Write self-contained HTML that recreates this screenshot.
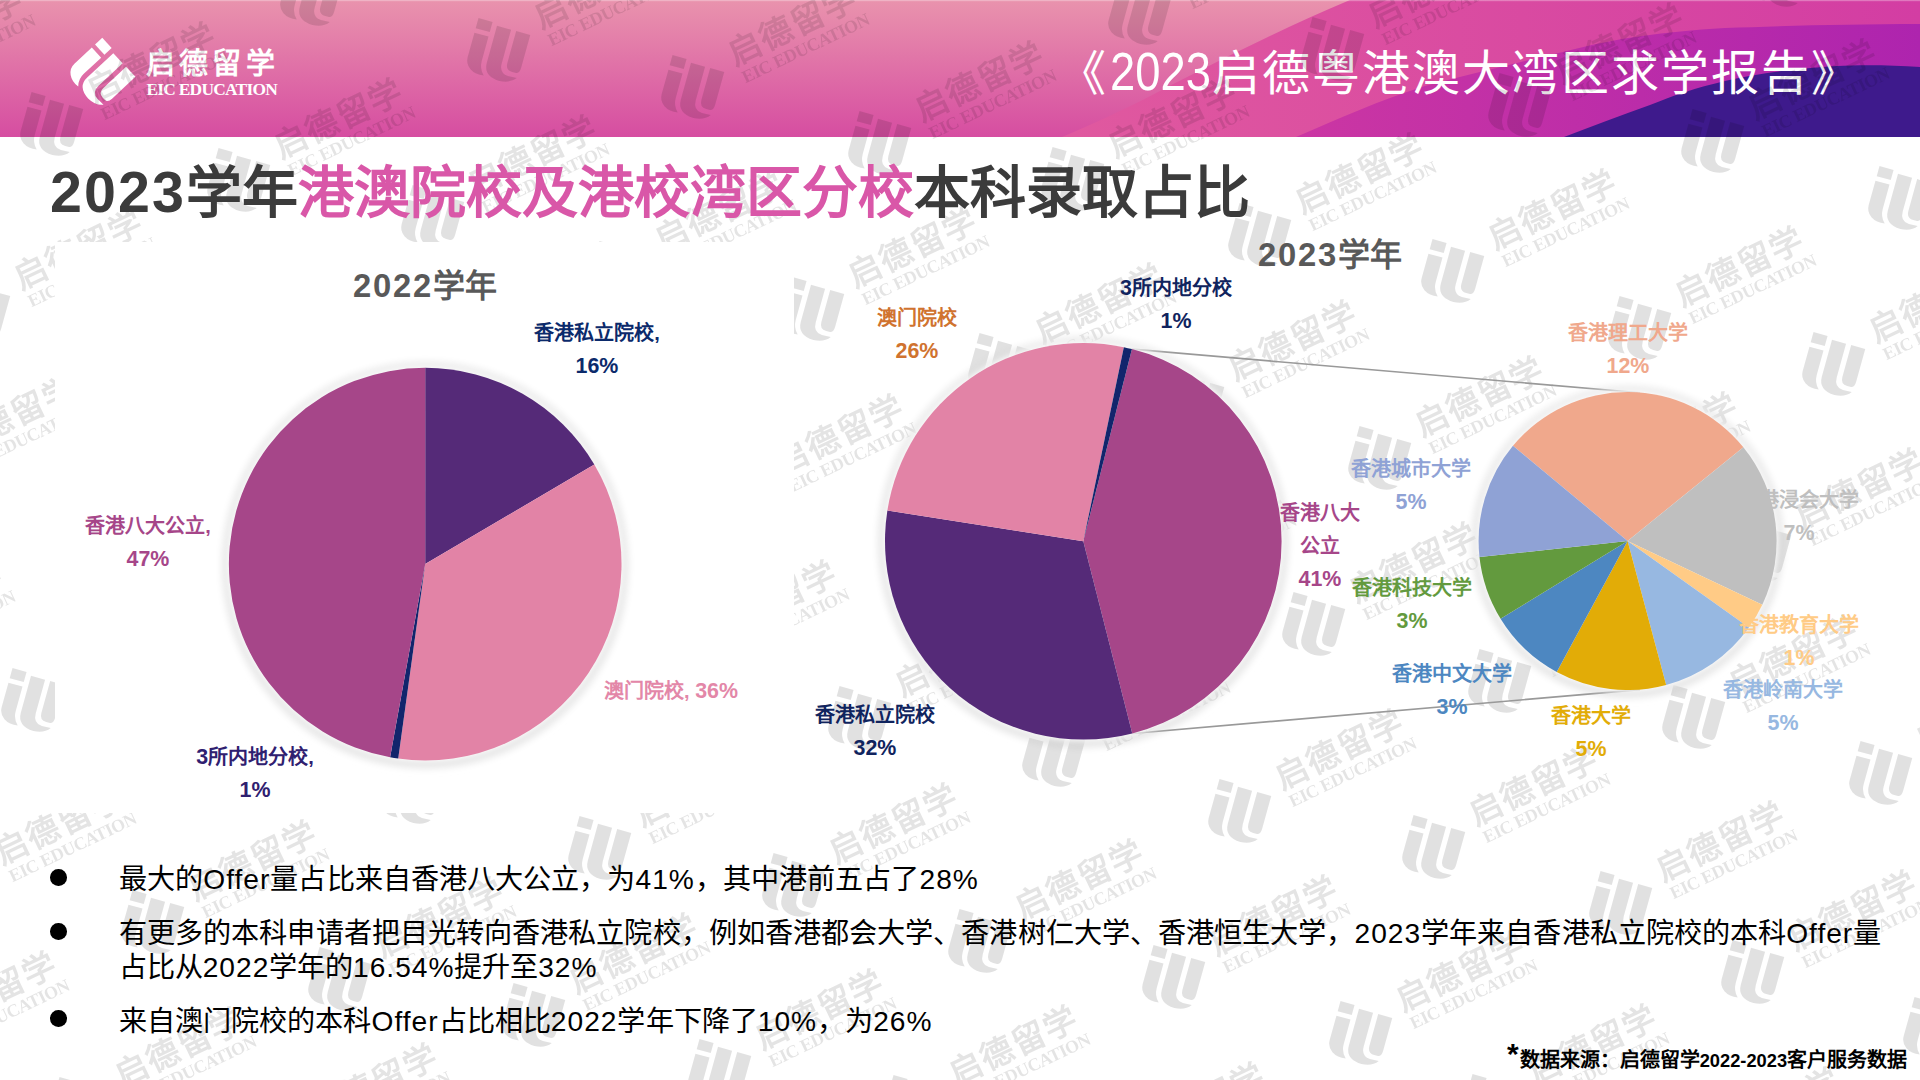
<!DOCTYPE html>
<html lang="zh-CN">
<head>
<meta charset="utf-8">
<title>2023学年港澳院校及港校湾区分校本科录取占比</title>
<style>
html,body{margin:0;padding:0;background:#fff;}
body{width:1920px;height:1080px;position:relative;overflow:hidden;font-family:"Liberation Sans",sans-serif;}
.abs{position:absolute;}
svg{position:absolute;left:0;top:0;}
.lb{position:absolute;text-align:center;font-weight:bold;white-space:nowrap;}
.lb i{font-style:normal;font-size:21.4px;}
#hdrtitle{position:absolute;left:1058px;top:38px;font-size:48px;line-height:66px;color:#fff;font-weight:500;letter-spacing:1.9px;white-space:nowrap;}
#hdrtitle i{font-style:normal;display:inline-block;font-size:54px;line-height:66px;letter-spacing:0;transform:scaleX(.84);transform-origin:0 50%;margin-right:-18px;margin-left:2px;vertical-align:baseline;}
#logotxt{position:absolute;left:145.5px;top:43.5px;font-size:29px;line-height:40px;color:#fff;font-weight:bold;letter-spacing:4.4px;white-space:nowrap;}
#logoen{position:absolute;left:146.5px;top:78.6px;font-family:"Liberation Serif",serif;font-size:17.4px;letter-spacing:-.75px;line-height:20px;color:#fff;font-weight:bold;white-space:nowrap;}
#title{position:absolute;left:50px;top:152px;font-size:56px;line-height:80px;font-weight:bold;color:#3B3B3B;white-space:nowrap;}
#title b{color:#D957A8;}
#title i{font-style:normal;font-size:57.4px;letter-spacing:2.1px;}
.ct i{font-style:normal;font-size:32.8px;letter-spacing:1.8px;}
.ct{position:absolute;font-size:32px;line-height:44px;font-weight:bold;color:#595959;white-space:nowrap;text-align:center;width:300px;}
.bl i{font-style:normal;letter-spacing:1px;}
.bl{position:absolute;left:119px;font-size:28.15px;line-height:34px;color:#000;white-space:nowrap;}
.dot{position:absolute;left:50px;width:16.6px;height:16.6px;border-radius:50%;background:#000;}
#foot{position:absolute;left:1507px;top:1045px;font-size:20px;line-height:30px;font-weight:bold;color:#000;white-space:nowrap;}
#foot sup{font-size:30px;line-height:0;vertical-align:2.6px;margin-right:1px;}
#foot i{font-style:normal;font-size:18.3px;}
</style>
</head>
<body>
<!-- header band -->
<svg width="1920" height="137" viewBox="0 0 1920 137">
<defs>
<linearGradient id="g0" x1="0" y1="0" x2="0" y2="1"><stop offset="0" stop-color="#E993AD"/><stop offset="1" stop-color="#D64DA1"/></linearGradient>
<linearGradient id="g1" x1="0" y1="0" x2="1" y2="0"><stop offset="0" stop-color="#E0599F"/><stop offset="1" stop-color="#D33DA3"/></linearGradient>
<linearGradient id="g2" x1="0" y1="0" x2="1" y2="0"><stop offset="0" stop-color="#CB36A3"/><stop offset="1" stop-color="#AE24AE"/></linearGradient>
</defs>
<rect width="1920" height="137" fill="url(#g0)"/>
<path d="M1350 0 C1290 25 1220 60 1158 92 C1120 112 1090 125 1062 137 L1920 137 L1920 0 Z" fill="url(#g1)"/>
<path d="M1920 24 C1850 24 1780 26 1725 28 C1660 32 1620 38 1575 49 C1520 62 1470 74 1425 86 C1380 100 1340 118 1296 137 L1920 137 Z" fill="url(#g2)"/>
<path d="M1920 67 C1890 65 1860 65 1837 66 C1790 69 1760 73 1725 81 C1695 88 1675 95 1650 105 C1620 116 1592 126 1564 137 L1920 137 Z" fill="#3E1A8C"/>
<rect width="1920" height="1.2" fill="#fff" fill-opacity=".3"/>
</svg>
<!-- header logo -->
<svg width="300" height="137" viewBox="0 0 300 137">
<g fill="#fff" transform="translate(100.8 74.2) rotate(47) scale(.94) translate(-7.3 -25)">
<rect x="-19.9" y="-2.5" width="14.6" height="10.5"/>
<path d="M-19.9 12.7H-5.3V38Q-5.3 46 .5 51.5Q-8 53 -14 49Q-19.9 45 -19.9 38Z"/>
<path d="M0 0H14.6V35Q14.6 45 24 45.5L33 45Q28 52 17 52.5Q0 52 0 38Z"/>
<path d="M19.9 0H34.5V34Q34.5 40.5 30 40.5H27Q19.9 40.5 19.9 33Z"/>
</g>
</svg>
<div id="logotxt">启德留学</div>
<div id="logoen">EIC EDUCATION</div>
<div id="hdrtitle">《<i>2023</i>启德粤港澳大湾区求学报告》</div>

<!-- watermark -->
<svg width="1920" height="1080" viewBox="0 0 1920 1080" style="opacity:.115">
<defs>
<g id="wm" fill="#000">
<g transform="rotate(41) translate(-6.3 -26.5)">
<rect x="-19.9" y="-2.5" width="14.6" height="10.5"/>
<path d="M-19.9 12.7H-5.3V38Q-5.3 46 .5 51.5Q-8 53 -14 49Q-19.9 45 -19.9 38Z"/>
<path d="M0 0H14.6V35Q14.6 45 24 45.5L33 45Q28 52 17 52.5Q0 52 0 38Z"/>
<path d="M19.9 0H34.5V34Q34.5 40.5 30 40.5H27Q19.9 40.5 19.9 33Z"/>
</g>
<text x="50.5" y="-2.5" style="font-family:'Liberation Sans',sans-serif;font-weight:bold;font-size:33px;letter-spacing:2px" fill-opacity=".93">启德留学</text>
<text x="53" y="18" style="font-family:'Liberation Serif',serif;font-weight:bold;font-size:18px;letter-spacing:-.5px" fill-opacity=".93">EIC EDUCATION</text>
</g>
</defs>
<use href="#wm" transform="translate(-144 91) rotate(-25.5)"/>
<use href="#wm" transform="translate(-211 257) rotate(-25.5)"/>
<use href="#wm" transform="translate(116 -39) rotate(-25.5)"/>
<use href="#wm" transform="translate(49 127) rotate(-25.5)"/>
<use href="#wm" transform="translate(-24 314) rotate(-25.5)"/>
<use href="#wm" transform="translate(-90 480) rotate(-25.5)"/>
<use href="#wm" transform="translate(-164 667) rotate(-25.5)"/>
<use href="#wm" transform="translate(309 -3) rotate(-25.5)"/>
<use href="#wm" transform="translate(236 183) rotate(-25.5)"/>
<use href="#wm" transform="translate(170 350) rotate(-25.5)"/>
<use href="#wm" transform="translate(96 536) rotate(-25.5)"/>
<use href="#wm" transform="translate(30 703) rotate(-25.5)"/>
<use href="#wm" transform="translate(-43 889) rotate(-25.5)"/>
<use href="#wm" transform="translate(-110 1056) rotate(-25.5)"/>
<use href="#wm" transform="translate(496 53) rotate(-25.5)"/>
<use href="#wm" transform="translate(430 220) rotate(-25.5)"/>
<use href="#wm" transform="translate(356 406) rotate(-25.5)"/>
<use href="#wm" transform="translate(290 573) rotate(-25.5)"/>
<use href="#wm" transform="translate(217 759) rotate(-25.5)"/>
<use href="#wm" transform="translate(150 925) rotate(-25.5)"/>
<use href="#wm" transform="translate(77 1112) rotate(-25.5)"/>
<use href="#wm" transform="translate(690 90) rotate(-25.5)"/>
<use href="#wm" transform="translate(617 276) rotate(-25.5)"/>
<use href="#wm" transform="translate(550 442) rotate(-25.5)"/>
<use href="#wm" transform="translate(477 629) rotate(-25.5)"/>
<use href="#wm" transform="translate(410 795) rotate(-25.5)"/>
<use href="#wm" transform="translate(337 982) rotate(-25.5)"/>
<use href="#wm" transform="translate(271 1148) rotate(-25.5)"/>
<use href="#wm" transform="translate(950 -41) rotate(-25.5)"/>
<use href="#wm" transform="translate(877 146) rotate(-25.5)"/>
<use href="#wm" transform="translate(810 312) rotate(-25.5)"/>
<use href="#wm" transform="translate(737 499) rotate(-25.5)"/>
<use href="#wm" transform="translate(670 665) rotate(-25.5)"/>
<use href="#wm" transform="translate(597 851) rotate(-25.5)"/>
<use href="#wm" transform="translate(531 1018) rotate(-25.5)"/>
<use href="#wm" transform="translate(1137 16) rotate(-25.5)"/>
<use href="#wm" transform="translate(1070 182) rotate(-25.5)"/>
<use href="#wm" transform="translate(997 368) rotate(-25.5)"/>
<use href="#wm" transform="translate(930 535) rotate(-25.5)"/>
<use href="#wm" transform="translate(857 721) rotate(-25.5)"/>
<use href="#wm" transform="translate(791 888) rotate(-25.5)"/>
<use href="#wm" transform="translate(717 1074) rotate(-25.5)"/>
<use href="#wm" transform="translate(1330 52) rotate(-25.5)"/>
<use href="#wm" transform="translate(1257 238) rotate(-25.5)"/>
<use href="#wm" transform="translate(1190 405) rotate(-25.5)"/>
<use href="#wm" transform="translate(1117 591) rotate(-25.5)"/>
<use href="#wm" transform="translate(1051 758) rotate(-25.5)"/>
<use href="#wm" transform="translate(977 944) rotate(-25.5)"/>
<use href="#wm" transform="translate(911 1110) rotate(-25.5)"/>
<use href="#wm" transform="translate(1517 108) rotate(-25.5)"/>
<use href="#wm" transform="translate(1450 274) rotate(-25.5)"/>
<use href="#wm" transform="translate(1377 461) rotate(-25.5)"/>
<use href="#wm" transform="translate(1311 627) rotate(-25.5)"/>
<use href="#wm" transform="translate(1237 814) rotate(-25.5)"/>
<use href="#wm" transform="translate(1171 980) rotate(-25.5)"/>
<use href="#wm" transform="translate(1098 1167) rotate(-25.5)"/>
<use href="#wm" transform="translate(1777 -22) rotate(-25.5)"/>
<use href="#wm" transform="translate(1710 144) rotate(-25.5)"/>
<use href="#wm" transform="translate(1637 331) rotate(-25.5)"/>
<use href="#wm" transform="translate(1571 497) rotate(-25.5)"/>
<use href="#wm" transform="translate(1497 684) rotate(-25.5)"/>
<use href="#wm" transform="translate(1431 850) rotate(-25.5)"/>
<use href="#wm" transform="translate(1358 1036) rotate(-25.5)"/>
<use href="#wm" transform="translate(1897 201) rotate(-25.5)"/>
<use href="#wm" transform="translate(1831 367) rotate(-25.5)"/>
<use href="#wm" transform="translate(1757 553) rotate(-25.5)"/>
<use href="#wm" transform="translate(1691 720) rotate(-25.5)"/>
<use href="#wm" transform="translate(1618 906) rotate(-25.5)"/>
<use href="#wm" transform="translate(1951 590) rotate(-25.5)"/>
<use href="#wm" transform="translate(1878 776) rotate(-25.5)"/>
<use href="#wm" transform="translate(1932 1165) rotate(-25.5)"/>
<use href="#wm" transform="translate(1750 975) rotate(-25.5)"/>
<use href="#wm" transform="translate(1932 1032) rotate(-25.5)"/>
<use href="#wm" transform="translate(1490 1109) rotate(-25.5)"/>
<use href="#wm" transform="translate(1673 1172) rotate(-25.5)"/>
</svg>

<!-- chart 2022 white box -->
<div class="abs" style="left:54.7px;top:242.4px;width:739.3px;height:571.1px;background:#fff"></div>

<svg width="1920" height="1080" viewBox="0 0 1920 1080">
<line x1="1131.9" y1="349.1" x2="1640.0" y2="392.8" stroke="#999" stroke-width="1.6"/><line x1="1132.3" y1="733.5" x2="1640.0" y2="689.6" stroke="#999" stroke-width="1.6"/>
<g style="filter:drop-shadow(0 0 5px #fff) drop-shadow(0 0 4px #fff) drop-shadow(0 1px 2.5px rgba(0,0,0,.25))">
<path d="M425.20 564.10L425.20 367.80A196.3 196.3 0 0 1 594.34 464.47Z" fill="#552A78"/>
<path d="M425.20 564.10L594.34 464.47A196.3 196.3 0 0 1 398.22 758.54Z" fill="#E283A6"/>
<path d="M425.20 564.10L398.22 758.54A196.3 196.3 0 0 1 390.10 757.24Z" fill="#12256C"/>
<path d="M425.20 564.10L390.10 757.24A196.3 196.3 0 0 1 425.20 367.80Z" fill="#A64689"/>
</g>
<g style="filter:drop-shadow(0 0 5px #fff) drop-shadow(0 0 4px #fff) drop-shadow(0 1px 2.5px rgba(0,0,0,.25))">
<path d="M1083.30 541.30L1131.94 349.06A198.3 198.3 0 0 1 1132.28 733.46Z" fill="#A64689"/>
<path d="M1083.30 541.30L1132.28 733.46A198.3 198.3 0 0 1 887.39 510.62Z" fill="#552A78"/>
<path d="M1083.30 541.30L887.39 510.62A198.3 198.3 0 0 1 1123.85 347.19Z" fill="#E283A6"/>
<path d="M1083.30 541.30L1123.85 347.19A198.3 198.3 0 0 1 1131.94 349.06Z" fill="#12256C"/>
</g>
<g style="filter:drop-shadow(0 0 5px #fff) drop-shadow(0 0 4px #fff) drop-shadow(0 1px 2.5px rgba(0,0,0,.25))">
<path d="M1627.60 541.00L1512.96 445.82A149 149 0 0 1 1743.39 447.23Z" fill="#F0A88C"/>
<path d="M1627.60 541.00L1743.39 447.23A149 149 0 0 1 1762.31 604.68Z" fill="#BFBFBF"/>
<path d="M1627.60 541.00L1762.31 604.68A149 149 0 0 1 1748.90 627.52Z" fill="#FFCB86"/>
<path d="M1627.60 541.00L1748.90 627.52A149 149 0 0 1 1666.16 684.92Z" fill="#97B8E1"/>
<path d="M1627.60 541.00L1666.16 684.92A149 149 0 0 1 1556.73 672.07Z" fill="#E2AC07"/>
<path d="M1627.60 541.00L1556.73 672.07A149 149 0 0 1 1500.56 618.85Z" fill="#4D87C1"/>
<path d="M1627.60 541.00L1500.56 618.85A149 149 0 0 1 1479.47 557.09Z" fill="#639A3E"/>
<path d="M1627.60 541.00L1479.47 557.09A149 149 0 0 1 1512.96 445.82Z" fill="#8FA2D5"/>
</g>
</svg>

<div id="title"><i>2023</i>学年<b>港澳院校及港校湾区分校</b>本科录取占比</div>
<div class="ct" style="left:275px;top:264px"><i>2022</i>学年</div>
<div class="ct" style="left:1180px;top:233px"><i>2023</i>学年</div>
<div class="lb" style="left:477.0px;top:317px;width:240px;color:#0B2A6B;font-size:20px;line-height:33px">香港私立院校,<br><i>16%</i></div>
<div class="lb" style="left:28.0px;top:510px;width:240px;color:#A64689;font-size:20px;line-height:33px">香港八大公立,<br><i>47%</i></div>
<div class="lb" style="left:551.0px;top:675px;width:240px;color:#E387A8;font-size:20px;line-height:33px">澳门院校, <i>36%</i></div>
<div class="lb" style="left:135.0px;top:741px;width:240px;color:#2F2070;font-size:20px;line-height:33px"><i>3</i>所内地分校,<br><i>1%</i></div>
<div class="lb" style="left:1056.0px;top:272px;width:240px;color:#10245E;font-size:20px;line-height:33px"><i>3</i>所内地分校<br><i>1%</i></div>
<div class="lb" style="left:797.0px;top:302px;width:240px;color:#D0732F;font-size:20px;line-height:33px">澳门院校<br><i>26%</i></div>
<div class="lb" style="left:1200.0px;top:497px;width:240px;color:#A64689;font-size:20px;line-height:33px">香港八大<br>公立<br><i>41%</i></div>
<div class="lb" style="left:755.0px;top:699px;width:240px;color:#10245E;font-size:20px;line-height:33px">香港私立院校<br><i>32%</i></div>
<div class="lb" style="left:1508.0px;top:317px;width:240px;color:#F0A88C;font-size:20px;line-height:33px">香港理工大学<br><i>12%</i></div>
<div class="lb" style="left:1291.0px;top:453px;width:240px;color:#8FA2D5;font-size:20px;line-height:33px">香港城市大学<br><i>5%</i></div>
<div class="lb" style="left:1679.0px;top:484px;width:240px;color:#BFBFBF;font-size:20px;line-height:33px">香港浸会大学<br><i>7%</i></div>
<div class="lb" style="left:1292.0px;top:572px;width:240px;color:#639A3E;font-size:20px;line-height:33px">香港科技大学<br><i>3%</i></div>
<div class="lb" style="left:1679.0px;top:609px;width:240px;color:#FFCB86;font-size:20px;line-height:33px">香港教育大学<br><i>1%</i></div>
<div class="lb" style="left:1332.0px;top:658px;width:240px;color:#4D87C1;font-size:20px;line-height:33px">香港中文大学<br><i>3%</i></div>
<div class="lb" style="left:1663.0px;top:674px;width:240px;color:#97B8E1;font-size:20px;line-height:33px">香港岭南大学<br><i>5%</i></div>
<div class="lb" style="left:1471.0px;top:700px;width:240px;color:#E2AC07;font-size:20px;line-height:33px">香港大学<br><i>5%</i></div>

<div class="dot" style="top:869px"></div>
<div class="dot" style="top:923px"></div>
<div class="dot" style="top:1010px"></div>
<div class="bl" style="top:863px;letter-spacing:.09px">最大的<i>Offer</i>量占比来自香港八大公立，为<i>41%</i>，其中港前五占了<i>28%</i></div>
<div class="bl" style="top:917px;letter-spacing:.08px">有更多的本科申请者把目光转向香港私立院校，例如香港都会大学、香港树仁大学、香港恒生大学，<i>2023</i>学年来自香港私立院校的本科<i>Offer</i>量</div>
<div class="bl" style="top:951px;letter-spacing:-.1px">占比从<i>2022</i>学年的<i>16.54%</i>提升至<i>32%</i></div>
<div class="bl" style="top:1004.5px;letter-spacing:.06px">来自澳门院校的本科<i>Offer</i>占比相比<i>2022</i>学年下降了<i>10%</i>，为<i>26%</i></div>
<div id="foot"><sup>*</sup>数据来源：启德留学<i>2022-2023</i>客户服务数据</div>
</body>
</html>
